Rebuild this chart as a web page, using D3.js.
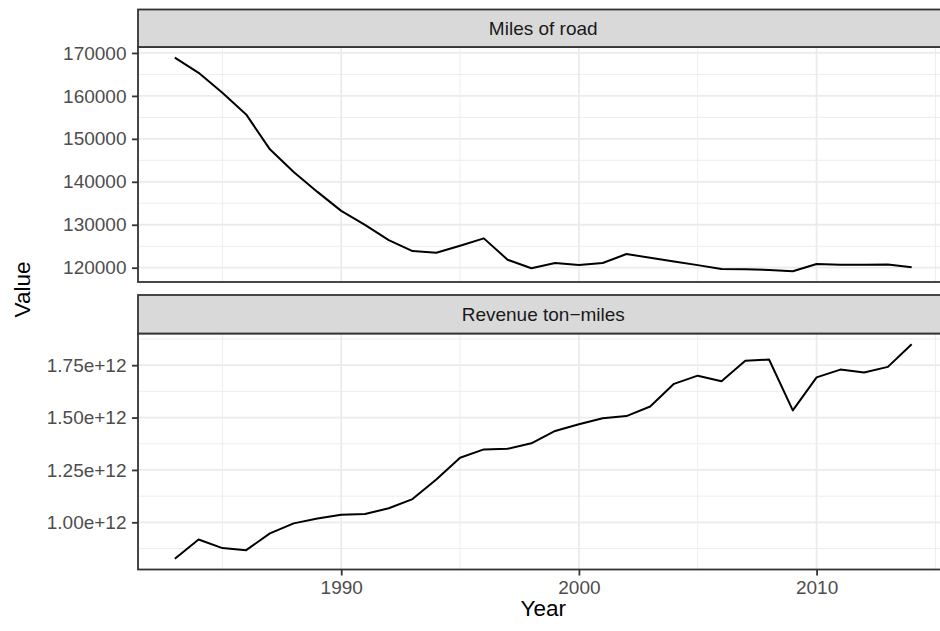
<!DOCTYPE html>
<html>
<head>
<meta charset="utf-8">
<script src="https://cdn.jsdelivr.net/npm/d3@7"></script>
<style>
  body { margin: 0; background: #fff; }
  text { font-family: "Liberation Sans", Arial, sans-serif; }
</style>
</head>
<body>
<div id="chart"></div>
<script>
// data
var years = [1983, 1984, 1985, 1986, 1987, 1988, 1989, 1990, 1991, 1992, 1993, 1994, 1995, 1996, 1997, 1998,
             1999, 2000, 2001, 2002, 2003, 2004, 2005, 2006, 2007, 2008, 2009, 2010, 2011, 2012, 2013, 2014]
var milesOfRoad = [168900, 165370, 160720, 155690, 147560, 142290, 137650, 133230, 129980, 126430, 123880, 123480,
                   125110, 126830, 121860, 119860, 121090, 120630, 121090, 123180, 122300, 121450, 120600, 119700,
                   119650, 119470, 119160, 120860, 120700, 120700, 120750, 120090]
var tonMiles = [0.826e12, 0.918e12, 0.877e12, 0.867e12, 0.947e12, 0.995e12, 1.018e12, 1.036e12, 1.040e12, 1.067e12,
                1.111e12, 1.204e12, 1.308e12, 1.348e12, 1.351e12, 1.377e12, 1.436e12, 1.468e12, 1.497e12, 1.507e12,
                1.553e12, 1.661e12, 1.700e12, 1.673e12, 1.771e12, 1.777e12, 1.534e12, 1.692e12, 1.729e12, 1.715e12,
                1.742e12, 1.850e12]
var facetNames = ["Miles of road", "Revenue ton\u2212miles"]
var xTicks = [1990, 2000, 2010]
var xMinor = [1985, 1995, 2005, 2015]
var yTicks1 = [120000, 130000, 140000, 150000, 160000, 170000]
var yMinor1 = [125000, 135000, 145000, 155000, 165000]
var yTicks2 = [1.00e12, 1.25e12, 1.50e12, 1.75e12]
var yMinor2 = [0.875e12, 1.125e12, 1.375e12, 1.625e12, 1.875e12]

var width = 940, height = 631
var left = 138, right = 948.5
var tickFont = "19px", titleFont = "22.5px"

var svg = d3.select("#chart").append("svg")
    .attr("width", width)
    .attr("height", height)

// ggplot style 5% expansion
function expand(ext) {
    var r = ext[1] - ext[0]
    return [ext[0] - 0.05 * r, ext[1] + 0.05 * r]
}

var x = d3.scaleLinear().domain(expand(d3.extent(years))).range([left, right])

var panels = [
    {name: facetNames[0], values: milesOfRoad, stripTop: 9.5, top: 47, bottom: 282,
     ticks: yTicks1, minor: yMinor1, fmt: d3.format("d")},
    {name: facetNames[1], values: tonMiles, stripTop: 295, top: 333.5, bottom: 569.5,
     ticks: yTicks2, minor: yMinor2, fmt: d3.format(".2e")}
]

panels.forEach(function(p, i) {
    var y = d3.scaleLinear().domain(expand(d3.extent(p.values))).range([p.bottom, p.top])
    var g = svg.append("g")

    var clip = "clip" + i
    g.append("clipPath").attr("id", clip)
      .append("rect").attr("x", left).attr("y", p.top)
      .attr("width", right - left).attr("height", p.bottom - p.top)

    var grid = g.append("g").attr("clip-path", "url(#" + clip + ")")

    // minor grid
    grid.selectAll(".ymin").data(p.minor).enter().append("line")
        .attr("x1", left).attr("x2", right)
        .attr("y1", function(d) { return y(d) }).attr("y2", function(d) { return y(d) })
        .attr("stroke", "#ebebeb").attr("stroke-width", 0.9)
    grid.selectAll(".xmin").data(xMinor).enter().append("line")
        .attr("y1", p.top).attr("y2", p.bottom)
        .attr("x1", function(d) { return x(d) }).attr("x2", function(d) { return x(d) })
        .attr("stroke", "#ebebeb").attr("stroke-width", 0.9)
    // major grid
    grid.selectAll(".ymaj").data(p.ticks).enter().append("line")
        .attr("x1", left).attr("x2", right)
        .attr("y1", function(d) { return y(d) }).attr("y2", function(d) { return y(d) })
        .attr("stroke", "#ebebeb").attr("stroke-width", 1.8)
    grid.selectAll(".xmaj").data(xTicks).enter().append("line")
        .attr("y1", p.top).attr("y2", p.bottom)
        .attr("x1", function(d) { return x(d) }).attr("x2", function(d) { return x(d) })
        .attr("stroke", "#ebebeb").attr("stroke-width", 1.8)

    // the series
    var line = d3.line()
        .x(function(d, j) { return x(years[j]) })
        .y(function(d) { return y(d) })
    grid.append("path")
        .datum(p.values)
        .attr("d", line)
        .attr("fill", "none")
        .attr("stroke", "#000")
        .attr("stroke-width", 2)
        .attr("stroke-linejoin", "round")

    // panel border
    g.append("rect")
        .attr("x", left).attr("y", p.top)
        .attr("width", right - left).attr("height", p.bottom - p.top)
        .attr("fill", "none").attr("stroke", "#333333").attr("stroke-width", 1.8)

    // strip
    g.append("rect")
        .attr("x", left).attr("y", p.stripTop)
        .attr("width", right - left).attr("height", p.top - p.stripTop)
        .attr("fill", "#d9d9d9").attr("stroke", "#333333").attr("stroke-width", 1.8)
    g.append("text")
        .attr("x", (left + right) / 2)
        .attr("y", (p.stripTop + p.top) / 2)
        .attr("dy", "0.35em")
        .attr("text-anchor", "middle")
        .attr("font-size", tickFont)
        .attr("fill", "#1a1a1a")
        .text(p.name)

    // y axis
    var ax = g.append("g")
        .attr("transform", "translate(" + left + ",0)")
        .call(d3.axisLeft(y).tickValues(p.ticks).tickFormat(p.fmt).tickSize(6).tickPadding(5.5))
    ax.select(".domain").remove()
    ax.selectAll(".tick line").attr("stroke", "#333333").attr("stroke-width", 1.8)
    ax.selectAll(".tick text").attr("fill", "#4d4d4d").attr("font-size", tickFont)
        .attr("font-family", "Liberation Sans, Arial, sans-serif")

    if (i == panels.length - 1) {
        var bx = g.append("g")
            .attr("transform", "translate(0," + p.bottom + ")")
            .call(d3.axisBottom(x).tickValues(xTicks).tickFormat(d3.format("d")).tickSize(6).tickPadding(5))
        bx.select(".domain").remove()
        bx.selectAll(".tick line").attr("stroke", "#333333").attr("stroke-width", 1.8)
        bx.selectAll(".tick text").attr("fill", "#4d4d4d").attr("font-size", tickFont)
            .attr("font-family", "Liberation Sans, Arial, sans-serif")
    }
})

// axis titles
svg.append("text")
    .attr("x", (left + right) / 2)
    .attr("y", 616)
    .attr("text-anchor", "middle")
    .attr("font-size", titleFont)
    .attr("fill", "#000")
    .text("Year")

svg.append("text")
    .attr("transform", "translate(30," + (9.5 + 569.5) / 2 + ") rotate(-90)")
    .attr("text-anchor", "middle")
    .attr("font-size", titleFont)
    .attr("fill", "#000")
    .text("Value")
</script>
</body>
</html>
